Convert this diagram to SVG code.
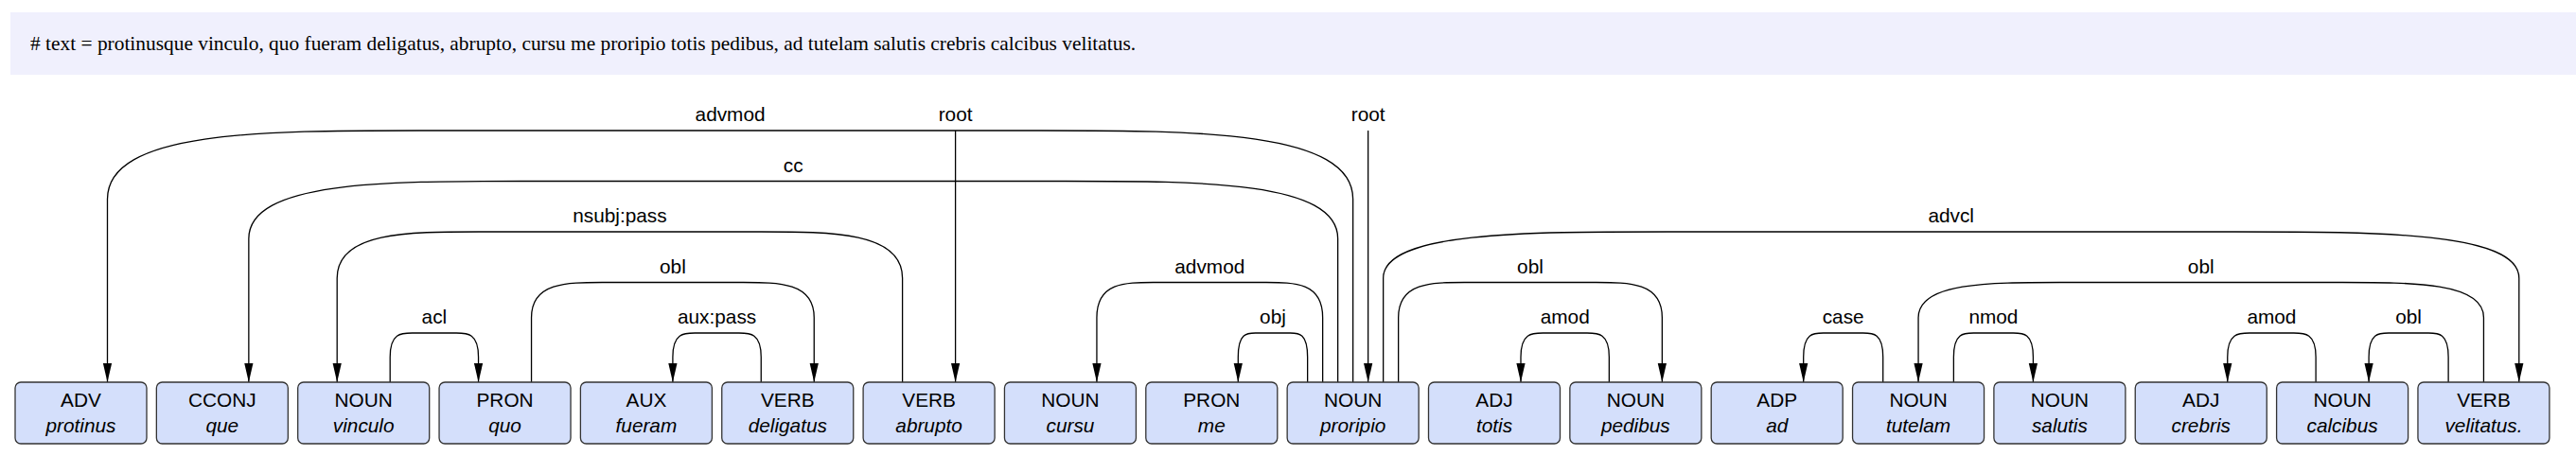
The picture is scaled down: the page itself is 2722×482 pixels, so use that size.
<svg xmlns="http://www.w3.org/2000/svg" width="2722" height="482" viewBox="0 0 2722 482">
<style>
.hdr{fill:#f0f0fd}
.hdrt{font-family:"Liberation Serif","Times New Roman",serif;font-size:21.4px;fill:#000}
.box{fill:#d4dffb;stroke:#333;stroke-width:1.3}
.pos{font-family:"Liberation Sans",Arial,sans-serif;font-size:20.8px;fill:#000;text-anchor:middle}
.word{font-family:"Liberation Sans",Arial,sans-serif;font-size:20.8px;font-style:italic;fill:#000;text-anchor:middle}
.arc{fill:none;stroke:#000;stroke-width:1.3;marker-end:url(#ah)}
.lbl{font-family:"Liberation Sans",Arial,sans-serif;font-size:20.8px;fill:#000;text-anchor:middle}
</style>
<defs>
<marker id="ah" markerUnits="userSpaceOnUse" viewBox="0 -5 20 10" markerWidth="20" markerHeight="10" refX="20" refY="0" orient="auto">
<polygon points="0,-4.6 20,0 0,4.6" fill="#000"/>
</marker>
</defs>
<rect class="hdr" x="11" y="13" width="2711" height="66"/>
<text class="hdrt" x="32" y="53"># text = protinusque vinculo, quo fueram deligatus, abrupto, cursu me proripio totis pedibus, ad tutelam salutis crebris calcibus velitatus.</text>

<g id="connectors">
<path class="arc" d="M1429.65,404 L1429.65,210.5 C1429.65,138 1265.13,138 1100.61,138 L442.54,138 C278.02,138 113.5,138 113.5,210.5 L113.5,404"/>
<path class="arc" d="M1009.6,138 L1009.6,404"/>
<path class="arc" d="M1445.65,138 L1445.65,404"/>
<path class="arc" d="M1413.65,404 L1413.65,252.3 C1413.65,191.5 1269.8,191.5 1125.95,191.5 L550.55,191.5 C406.7,191.5 262.85,191.5 262.85,252.3 L262.85,404"/>
<path class="arc" d="M953.6,404 L953.6,294 C953.6,245 878.93,245 804.25,245 L505.55,245 C430.88,245 356.2,245 356.2,294 L356.2,404"/>
<path class="arc" d="M412.2,404 L412.2,377.4 C412.2,352 423.87,352 435.54,352 L482.21,352 C493.88,352 505.55,352 505.55,377.4 L505.55,404"/>
<path class="arc" d="M561.55,404 L561.55,335.7 C561.55,298.5 598.89,298.5 636.23,298.5 L785.58,298.5 C822.92,298.5 860.25,298.5 860.25,335.7 L860.25,404"/>
<path class="arc" d="M804.25,404 L804.25,377.4 C804.25,352 792.58,352 780.91,352 L734.24,352 C722.57,352 710.9,352 710.9,377.4 L710.9,404"/>
<path class="arc" d="M1397.65,404 L1397.65,335.7 C1397.65,298.5 1367.81,298.5 1337.98,298.5 L1218.63,298.5 C1188.79,298.5 1158.95,298.5 1158.95,335.7 L1158.95,404"/>
<path class="arc" d="M1381.65,404 L1381.65,377.4 C1381.65,352 1372.48,352 1363.31,352 L1326.64,352 C1317.47,352 1308.3,352 1308.3,377.4 L1308.3,404"/>
<path class="arc" d="M1461.65,404 L1461.65,294 C1461.65,245 1611.67,245 1761.69,245 L2361.76,245 C2511.78,245 2661.8,245 2661.8,294 L2661.8,404"/>
<path class="arc" d="M1477.65,404 L1477.65,335.7 C1477.65,298.5 1512.49,298.5 1547.33,298.5 L1686.68,298.5 C1721.51,298.5 1756.35,298.5 1756.35,335.7 L1756.35,404"/>
<path class="arc" d="M1700.35,404 L1700.35,377.4 C1700.35,352 1688.68,352 1677.01,352 L1630.34,352 C1618.67,352 1607,352 1607,377.4 L1607,404"/>
<path class="arc" d="M1989.72,404 L1989.72,377.4 C1989.72,352 1979.22,352 1968.72,352 L1926.7,352 C1916.2,352 1905.7,352 1905.7,377.4 L1905.7,404"/>
<path class="arc" d="M2064.38,404 L2064.38,377.4 C2064.38,352 2074.88,352 2085.38,352 L2127.4,352 C2137.9,352 2148.4,352 2148.4,377.4 L2148.4,404"/>
<path class="arc" d="M2624.45,404 L2624.45,335.7 C2624.45,298.5 2549.78,298.5 2475.1,298.5 L2176.4,298.5 C2101.73,298.5 2027.05,298.5 2027.05,335.7 L2027.05,404"/>
<path class="arc" d="M2447.1,404 L2447.1,377.4 C2447.1,352 2435.43,352 2423.76,352 L2377.09,352 C2365.42,352 2353.75,352 2353.75,377.4 L2353.75,404"/>
<path class="arc" d="M2587.12,404 L2587.12,377.4 C2587.12,352 2576.62,352 2566.12,352 L2524.1,352 C2513.6,352 2503.1,352 2503.1,377.4 L2503.1,404"/>
<text class="lbl" x="771.6" y="128">advmod</text>
<text class="lbl" x="1009.6" y="128">root</text>
<text class="lbl" x="1445.65" y="128">root</text>
<text class="lbl" x="838.25" y="181.5">cc</text>
<text class="lbl" x="654.9" y="235">nsubj:pass</text>
<text class="lbl" x="458.9" y="342">acl</text>
<text class="lbl" x="710.9" y="288.5">obl</text>
<text class="lbl" x="757.6" y="342">aux:pass</text>
<text class="lbl" x="1278.3" y="288.5">advmod</text>
<text class="lbl" x="1345" y="342">obj</text>
<text class="lbl" x="2061.7" y="235">advcl</text>
<text class="lbl" x="1617" y="288.5">obl</text>
<text class="lbl" x="1653.7" y="342">amod</text>
<text class="lbl" x="1947.7" y="342">case</text>
<text class="lbl" x="2106.4" y="342">nmod</text>
<text class="lbl" x="2325.75" y="288.5">obl</text>
<text class="lbl" x="2400.4" y="342">amod</text>
<text class="lbl" x="2545.1" y="342">obl</text>
</g>

<g id="n1"><rect class="box" x="16" y="404" width="139" height="65" rx="6"/><text class="pos" x="85.5" y="430">ADV</text><text class="word" x="85.5" y="457">protinus</text></g>
<g id="n2"><rect class="box" x="165.35" y="404" width="139" height="65" rx="6"/><text class="pos" x="234.85" y="430">CCONJ</text><text class="word" x="234.85" y="457">que</text></g>
<g id="n3"><rect class="box" x="314.7" y="404" width="139" height="65" rx="6"/><text class="pos" x="384.2" y="430">NOUN</text><text class="word" x="384.2" y="457">vinculo</text></g>
<g id="n4"><rect class="box" x="464.05" y="404" width="139" height="65" rx="6"/><text class="pos" x="533.55" y="430">PRON</text><text class="word" x="533.55" y="457">quo</text></g>
<g id="n5"><rect class="box" x="613.4" y="404" width="139" height="65" rx="6"/><text class="pos" x="682.9" y="430">AUX</text><text class="word" x="682.9" y="457">fueram</text></g>
<g id="n6"><rect class="box" x="762.75" y="404" width="139" height="65" rx="6"/><text class="pos" x="832.25" y="430">VERB</text><text class="word" x="832.25" y="457">deligatus</text></g>
<g id="n7"><rect class="box" x="912.1" y="404" width="139" height="65" rx="6"/><text class="pos" x="981.6" y="430">VERB</text><text class="word" x="981.6" y="457">abrupto</text></g>
<g id="n8"><rect class="box" x="1061.45" y="404" width="139" height="65" rx="6"/><text class="pos" x="1130.95" y="430">NOUN</text><text class="word" x="1130.95" y="457">cursu</text></g>
<g id="n9"><rect class="box" x="1210.8" y="404" width="139" height="65" rx="6"/><text class="pos" x="1280.3" y="430">PRON</text><text class="word" x="1280.3" y="457">me</text></g>
<g id="n10"><rect class="box" x="1360.15" y="404" width="139" height="65" rx="6"/><text class="pos" x="1429.65" y="430">NOUN</text><text class="word" x="1429.65" y="457">proripio</text></g>
<g id="n11"><rect class="box" x="1509.5" y="404" width="139" height="65" rx="6"/><text class="pos" x="1579" y="430">ADJ</text><text class="word" x="1579" y="457">totis</text></g>
<g id="n12"><rect class="box" x="1658.85" y="404" width="139" height="65" rx="6"/><text class="pos" x="1728.35" y="430">NOUN</text><text class="word" x="1728.35" y="457">pedibus</text></g>
<g id="n13"><rect class="box" x="1808.2" y="404" width="139" height="65" rx="6"/><text class="pos" x="1877.7" y="430">ADP</text><text class="word" x="1877.7" y="457">ad</text></g>
<g id="n14"><rect class="box" x="1957.55" y="404" width="139" height="65" rx="6"/><text class="pos" x="2027.05" y="430">NOUN</text><text class="word" x="2027.05" y="457">tutelam</text></g>
<g id="n15"><rect class="box" x="2106.9" y="404" width="139" height="65" rx="6"/><text class="pos" x="2176.4" y="430">NOUN</text><text class="word" x="2176.4" y="457">salutis</text></g>
<g id="n16"><rect class="box" x="2256.25" y="404" width="139" height="65" rx="6"/><text class="pos" x="2325.75" y="430">ADJ</text><text class="word" x="2325.75" y="457">crebris</text></g>
<g id="n17"><rect class="box" x="2405.6" y="404" width="139" height="65" rx="6"/><text class="pos" x="2475.1" y="430">NOUN</text><text class="word" x="2475.1" y="457">calcibus</text></g>
<g id="n18"><rect class="box" x="2554.95" y="404" width="139" height="65" rx="6"/><text class="pos" x="2624.45" y="430">VERB</text><text class="word" x="2624.45" y="457">velitatus.</text></g>
</svg>
